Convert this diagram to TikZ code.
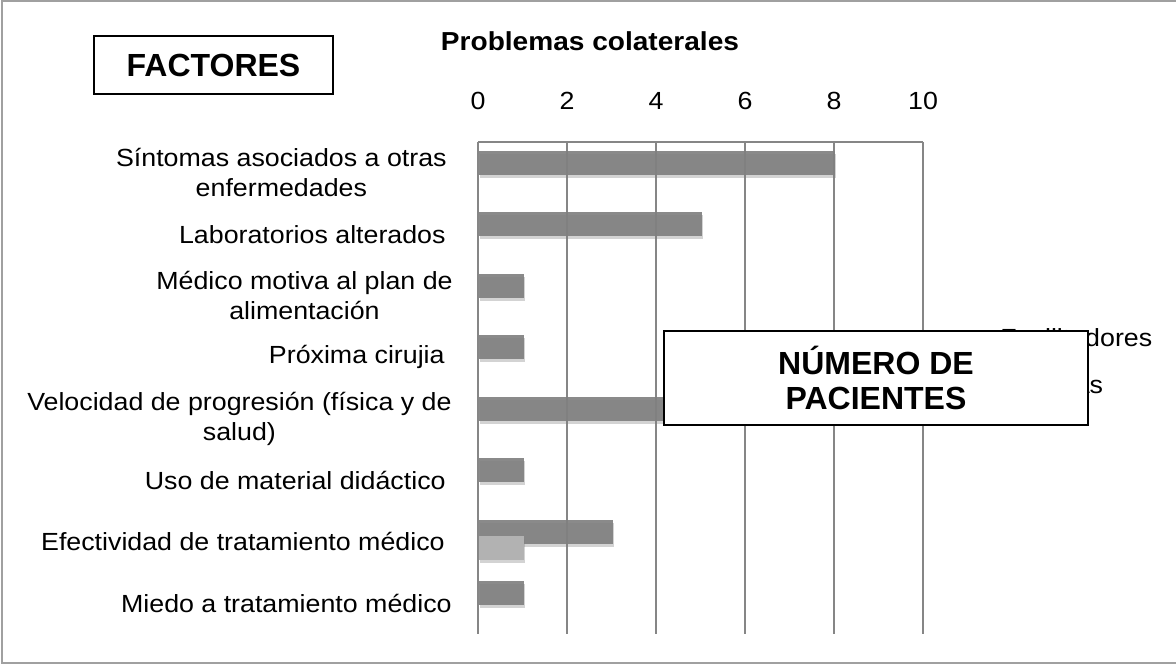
\documentclass[tikz,border=0pt]{standalone}
\usepackage{fontspec}
\setmainfont{Liberation Sans}
\newfontfamily\chartfont[FakeStretch=1.08]{Liberation Sans}
\usepackage{tikz}
\usetikzlibrary{positioning}
\usetikzlibrary{shadows}
\definecolor{rejillagris}{RGB}{134,134,134}
\definecolor{barraosc}{RGB}{128,128,128}
\definecolor{barraclara}{RGB}{178,178,178}
\definecolor{marcogris}{RGB}{160,160,160}
\tikzset{
  etiq/.style = {align=center, inner sep=0pt, anchor=east,
    font=\chartfont\fontsize{12.4}{15}\selectfont},          % category label
  numero/.style = {inner sep=0pt, font=\chartfont\fontsize{12.4}{15}\selectfont},
  titulo/.style = {inner sep=0pt, font=\chartfont\bfseries\fontsize{13}{15}\selectfont},
  caja/.style = {draw=black, line width=0.8pt, fill=white, align=center,
    inner sep=0pt, font=\bfseries\fontsize{16}{17.5}\selectfont},  % boxed heading
  rejilla/.style = {draw=rejillagris, line width=0.9pt},
  barra_o/.style = {fill=barraosc, fill opacity=0.92,
    drop shadow={shadow xshift=0.6pt, shadow yshift=-1.6pt, opacity=0.35}},   % dark series
  barra_c/.style = {fill=barraclara,
    drop shadow={shadow xshift=0.6pt, shadow yshift=-1.6pt, opacity=0.35}}    % light series
}

\begin{document}
\begin{tikzpicture}[x=0.5pt, y=-0.5pt]
    \useasboundingbox (0,0) rectangle (1176,664);
    \draw[marcogris, line width=1pt] (1180,1) -- (2,1) -- (2,663) -- (1180,663);

    % grid
    \foreach \k in {0,...,5}
        \draw[rejilla] (478+89*\k,142) -- (478+89*\k,634);
    \draw[rejilla] (478,142) -- (923,142);
    \foreach \k/\t in {0/0,1/2,2/4,3/6,4/8,5/10}
        \node[numero] (n\t) at (478+89*\k,101) {\t};
    \node[titulo] (tit) at (590,41) {Problemas colaterales};

    % bars
    \foreach \v [count=\i from 0] in {8,5,1,1,5,1,3,1}
        \fill[barra_o] (479,142+61.5*\i+8.75) rectangle ++(44.5*\v,24);
    \fill[barra_c] (479,142+61.5*6+24.75) rectangle ++(44.5,24);

    % categories
    \node[etiq] (sin) at (447,172.75) {S\'intomas asociados a otras\\enfermedades};
    \node[etiq] (lab) at (446,234.25) {Laboratorios alterados};
    \node[etiq] (med) at (453,295.75) {M\'edico motiva al plan de\\alimentaci\'on};
    \node[etiq] (pro) at (445,357.25) {Pr\'oxima cirujia};
    \node[etiq] (vel) at (452,418.75) {Velocidad de progresi\'on (f\'isica y de\\salud)};
    \node[etiq] (uso) at (446,480.25) {Uso de material did\'actico};
    \node[etiq] (efe) at (445,541.75) {Efectividad de tratamiento m\'edico};
    \node[etiq] (mie) at (452,603.25) {Miedo a tratamiento m\'edico};

    % legend, mostly under the box
    \node[numero, anchor=west] (fac) at (1000,338) {Facilitadores};
    \node[numero, anchor=west] (bar) at (1000,385) {Barreras};

    \node[caja, minimum width=119.5pt, minimum height=29pt] (factores) at (213.5,65) {FACTORES};
    \node[caja, minimum width=212pt, minimum height=47pt] (pacientes) at (876,378) {N\'UMERO DE\\PACIENTES};
\end{tikzpicture}
\end{document}
